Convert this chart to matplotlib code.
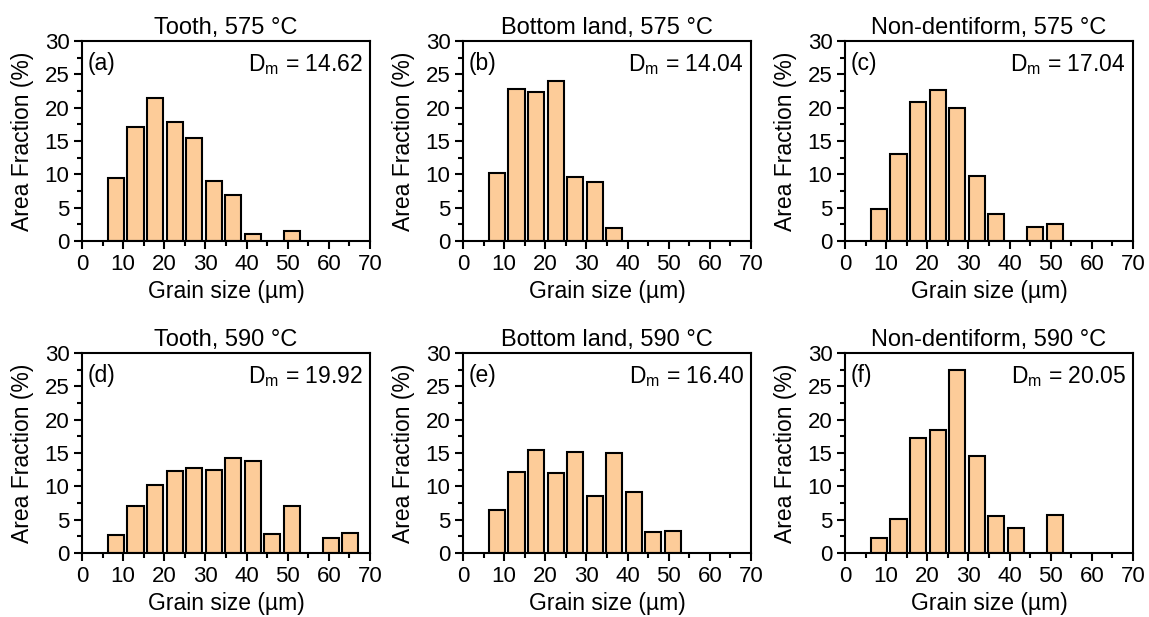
import numpy as np
import matplotlib
matplotlib.use("Agg")
import matplotlib.pyplot as plt
from matplotlib.ticker import MultipleLocator

plt.rcParams['font.family'] = ['Liberation Sans', 'DejaVu Sans']

# bin centres (um)
bin_centers = [8.25, 13.0, 17.75, 22.5, 27.25, 32.0, 36.75, 41.5, 46.25, 51.0, 55.75, 60.5, 65.25]

tooth_575 = [9.5, 17.1, 21.4, 17.8, 15.5, 9.0, 6.9, 1.0, 0, 1.55, 0, 0, 0]
bottom_575 = [10.2, 22.8, 22.4, 24.0, 9.6, 8.8, 1.9, 0, 0, 0, 0, 0, 0]
nonden_575 = [4.8, 13.0, 20.8, 22.6, 19.9, 9.8, 4.1, 0, 2.1, 2.6, 0, 0, 0]
tooth_590 = [2.7, 7.0, 10.2, 12.3, 12.8, 12.5, 14.2, 13.8, 2.85, 7.0, 0, 2.3, 3.0]
bottom_590 = [6.4, 12.2, 15.5, 12.0, 15.2, 8.6, 15.0, 9.1, 3.15, 3.3, 0, 0, 0]
nonden_590 = [2.3, 5.1, 17.3, 18.4, 27.5, 14.5, 5.5, 3.7, 0, 5.75, 0, 0, 0]

titles = ["Tooth, 575 °C", "Bottom land, 575 °C", "Non-dentiform, 575 °C",
          "Tooth, 590 °C", "Bottom land, 590 °C", "Non-dentiform, 590 °C"]
tags = ["(a)", "(b)", "(c)", "(d)", "(e)", "(f)"]
dm_values = ["14.62", "14.04", "17.04", "19.92", "16.40", "20.05"]
series = [tooth_575, bottom_575, nonden_575, tooth_590, bottom_590, nonden_590]

W, H = 1149, 617
fig = plt.figure(figsize=(W / 100, H / 100), dpi=100)

# axes boxes in pixels: left, top
lefts = [82, 463, 845]
tops = [41, 353]
aw, ah = 288, 200

bar_color = '#FDCC99'

for i in range(6):
    r, c = divmod(i, 3)
    l, t = lefts[c], tops[r]
    ax = fig.add_axes([l / W, 1 - (t + ah) / H, aw / W, ah / H])
    vals = np.array(series[i])
    mask = vals > 0
    ax.bar(np.array(bin_centers)[mask], vals[mask], width=3.9,
           color=bar_color, edgecolor='black', linewidth=1.5)
    ax.set_xlim(0, 70)
    ax.set_ylim(0, 30)
    ax.xaxis.set_major_locator(MultipleLocator(10))
    ax.xaxis.set_minor_locator(MultipleLocator(5))
    ax.yaxis.set_major_locator(MultipleLocator(5))
    ax.yaxis.set_minor_locator(MultipleLocator(2.5))
    ax.tick_params(which='both', direction='out', width=1.5, labelsize=16, pad=3)
    ax.tick_params(which='major', length=6)
    ax.tick_params(which='minor', length=3.5)
    for s in ax.spines.values():
        s.set_linewidth(1.5)
    ax.set_xlabel("Grain size (µm)", fontsize=16.5, labelpad=4)
    ax.set_ylabel("Area Fraction (%)", fontsize=16.5, labelpad=8)
    ax.set_title(titles[i], fontsize=17, pad=5)
    ax.text(0.02, 0.945, tags[i], transform=ax.transAxes, ha='left', va='top', fontsize=16.5)
    ax.text(0.975, 0.945, r"D$_\mathregular{m}$ = " + dm_values[i], transform=ax.transAxes,
            ha='right', va='top', fontsize=16.5)

fig.savefig("out.png", dpi=100)
